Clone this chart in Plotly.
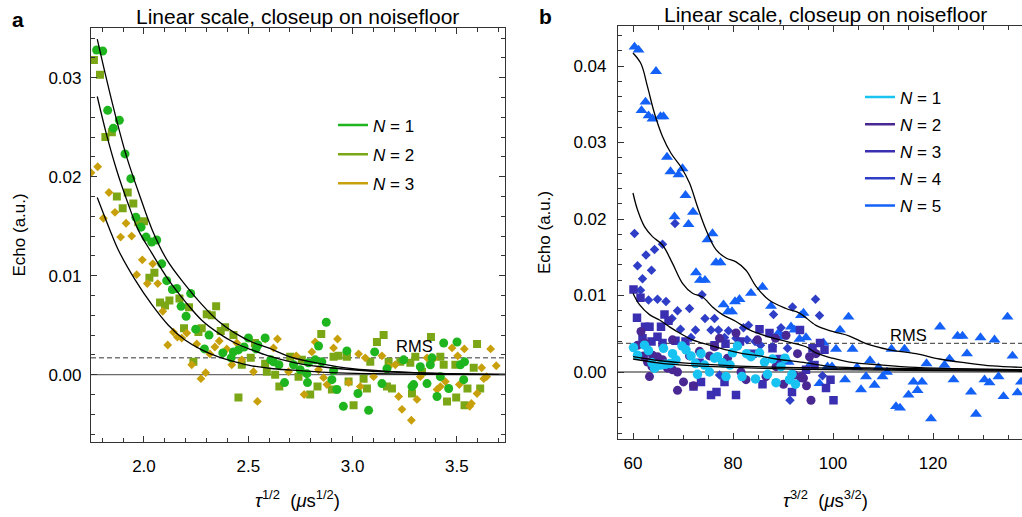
import plotly.graph_objects as go

W, H = 1022, 517
FONT = "Liberation Sans, Arial, sans-serif"

# ---------------- Panel a data: (tau^1/2, echo) ----------------
a_n1 = [(1.773,0.0328),(1.802,0.0327),(1.826,0.0267),(1.853,0.0249),(1.882,0.0257),(1.909,0.0223),
        (1.937,0.0198),(1.961,0.0159),(1.986,0.0149),(2.010,0.0139),(2.037,0.0134),(2.061,0.0136),
        (2.085,0.0112),(2.109,0.0095),(2.136,0.0086),(2.157,0.0087),(2.178,0.0069),(2.202,0.0059),
        (2.224,0.0082),(2.248,0.0046),(2.290,0.0026),(2.312,0.0040),(2.378,0.0022),(2.418,0.0017),
        (2.429,0.0023),(2.453,0.0025),(2.480,0.0028),(2.501,0.0037),(2.537,0.0026),(2.546,0.0030),
        (2.581,0.0037),(2.608,0.0015),(2.621,0.0013),(2.647,0.0010),(2.674,-0.0008),(2.717,0.0010),
        (2.749,0.0005),(2.781,0.0001),(2.789,0.0012),(2.784,-0.0008),(2.821,0.0015),(2.837,0.0029),
        (2.853,0.0013),(2.874,0.0053),(2.901,-0.0005),(2.909,0.0004),(2.925,-0.0015),(2.956,-0.0032),
        (2.973,0.0024),(3.026,-0.0019),(3.077,-0.0036),(3.106,0.0023),(3.141,-0.0009),(3.165,0.0006),
        (3.245,0.0015),(3.285,-0.0012),(3.293,-0.0010),(3.325,0.0008),(3.357,-0.0009),(3.373,0.0010),
        (3.381,0.0017),(3.405,-0.0022),(3.421,-0.0002),(3.437,0.0032),(3.461,-0.0014),(3.501,0.0033),
        (3.517,0.0010),(3.533,-0.0005),(3.537,0.0013)]
a_n2 = [(1.760,0.0318),(1.789,0.0303),(1.815,0.0240),(1.846,0.0245),(1.870,0.0180),(1.898,0.0168),
        (1.922,0.0184),(1.949,0.0173),(1.973,0.0154),(2.000,0.0155),(2.026,0.0098),(2.050,0.0103),
        (2.077,0.0073),(2.101,0.0070),(2.122,0.0075),(2.170,0.0077),(2.192,0.0047),(2.216,0.0068),
        (2.237,0.0013),(2.261,0.0043),(2.277,0.0047),(2.301,0.0061),(2.325,0.0060),(2.346,0.0069),
        (2.368,0.0044),(2.389,0.0048),(2.429,0.0040),(2.453,-0.0023),(2.469,0.0010),(2.512,0.0017),
        (2.532,0.0032),(2.581,0.0011),(2.589,0.0003),(2.629,0.0000),(2.649,-0.0012),(2.701,0.0018),
        (2.741,-0.0002),(2.757,0.0015),(2.797,-0.0020),(2.832,-0.0012),(2.850,0.0041),(2.901,-0.0015),
        (2.909,0.0018),(2.933,0.0019),(2.973,0.0018),(2.981,-0.0007),(3.005,-0.0031),(3.053,-0.0004),
        (3.069,-0.0014),(3.085,0.0013),(3.117,0.0033),(3.149,0.0040),(3.165,-0.0012),(3.173,0.0013),
        (3.189,-0.0014),(3.229,0.0013),(3.277,0.0012),(3.285,-0.0019),(3.301,0.0018),(3.333,0.0003),
        (3.376,0.0038),(3.421,0.0018),(3.437,0.0010),(3.453,-0.0027),(3.493,0.0010),(3.497,-0.0023),
        (3.537,-0.0031),(3.551,-0.0014),(3.581,0.0007),(3.597,0.0031),(3.612,-0.0014)]
a_n3 = [(1.746,0.0204),(1.778,0.0210),(1.805,0.0158),(1.832,0.0184),(1.861,0.0164),(1.888,0.0139),
        (1.914,0.0153),(1.941,0.0140),(1.965,0.0101),(1.992,0.0116),(2.016,0.0092),(2.042,0.0112),
        (2.066,0.0092),(2.090,0.0064),(2.114,0.0030),(2.141,0.0043),(2.160,0.0038),(2.181,0.0037),
        (2.205,0.0042),(2.229,0.0010),(2.253,0.0031),(2.273,-0.0004),(2.296,0.0002),(2.316,0.0021),
        (2.340,0.0028),(2.361,0.0034),(2.397,0.0026),(2.421,0.0010),(2.445,0.0032),(2.469,0.0015),
        (2.525,0.0003),(2.544,-0.0027),(2.581,0.0036),(2.621,0.0027),(2.640,0.0036),(2.693,0.0003),
        (2.730,0.0019),(2.768,-0.0020),(2.805,0.0023),(2.821,0.0033),(2.837,0.0005),(2.861,-0.0003),
        (2.877,-0.0010),(2.909,0.0027),(2.928,0.0036),(2.981,-0.0008),(3.029,0.0021),(3.037,-0.0012),
        (3.061,0.0017),(3.101,-0.0002),(3.141,0.0019),(3.173,0.0008),(3.205,0.0010),(3.221,-0.0022),
        (3.237,-0.0035),(3.282,-0.0046),(3.309,-0.0025),(3.325,-0.0002),(3.357,0.0017),(3.389,0.0016),
        (3.405,-0.0015),(3.421,-0.0012),(3.445,-0.0007),(3.477,0.0027),(3.504,0.0019),(3.512,-0.0010),
        (3.536,0.0026),(3.562,-0.0032),(3.570,-0.0029),(3.597,-0.0019),(3.619,0.0007),(3.629,-0.0004),
        (3.643,-0.0002),(3.662,0.0026),(3.689,0.0009)]

# fit curves (panel a)
a_fit1_x = [1.776,1.821,1.869,1.917,1.981,2.040,2.110,2.197,2.277,2.357,2.437,2.517,2.597,2.700,2.850,3.000,3.200,3.450,3.731]
a_fit1_y = [0.0339,0.0298,0.0257,0.0220,0.0180,0.0146,0.0116,0.0091,0.0071,0.0054,0.0042,0.0033,0.0027,0.0018,0.0011,0.0006,0.0003,0.0001,0.00003]
a_fit2_x = [1.776,1.820,1.870,1.920,1.973,2.037,2.117,2.197,2.277,2.357,2.437,2.517,2.597,2.725,2.850,3.000,3.200,3.450,3.731]
a_fit2_y = [0.0281,0.0243,0.0206,0.0175,0.0146,0.0123,0.0096,0.0074,0.0055,0.0042,0.0032,0.0025,0.0019,0.0012,0.0008,0.0005,0.00025,0.0001,0.00003]
a_fit3_x = [1.776,1.837,1.877,1.957,2.037,2.117,2.197,2.277,2.357,2.437,2.517,2.620,2.750,2.900,3.100,3.350,3.731]
a_fit3_y = [0.0179,0.0146,0.0126,0.0096,0.0071,0.0050,0.0035,0.0025,0.0018,0.0013,0.0009,0.0006,0.0004,0.0002,0.0001,0.00004,0.00001]
a_rms = 0.0017

# ---------------- Panel b data: (tau^3/2, echo) ----------------
b_n1 = [(60.1,0.0032),(60.9,0.0022),(62.3,0.0035),(63.1,0.0028),(63.8,0.0012),(64.3,0.0005),(64.6,0.0007),
        (65.6,0.0009),(66.1,0.0031),(66.5,0.0010),(67.4,0.0011),(67.9,0.0024),(68.6,0.0016),(69.8,0.0034),
        (70.6,0.0029),(71.6,0.0021),(72.5,0.0011),(72.9,-0.0003),(73.6,0.0024),(74.3,0.0009),(75.3,0.0000),
        (76.3,0.0018),(76.9,0.0020),(77.9,0.0012),(78.6,-0.0006),(79.4,0.0009),(79.9,0.0025),(80.9,0.0034),
        (81.8,-0.0006),(82.7,0.0024),(83.6,0.0020),(84.5,-0.0009),(85.3,0.0025),(86.3,0.0013),(86.9,-0.0003),
        (87.9,0.0017),(88.6,-0.0014),(89.6,0.0007),(90.4,0.0018),(91.3,-0.0010),(91.8,-0.0003),(92.5,-0.0016)]
b_n2 = [(60.9,0.0035),(61.6,0.0053),(62.1,0.0021),(62.3,0.0038),(62.9,0.0013),(63.3,-0.0006),(63.8,0.0007),
        (63.9,0.0022),(64.9,0.0020),(65.9,0.0016),(66.9,0.0005),(67.9,0.0003),(67.9,0.0042),(68.9,-0.0024),
        (68.9,0.0000),(70.1,-0.0013),(71.3,0.0021),(72.1,-0.0018),(73.3,0.0027),(75.3,0.0021),(76.3,0.0033),
        (77.3,0.0044),(78.9,0.0018),(80.6,0.0051),(81.6,0.0000),(82.6,-0.0010),(83.6,0.0022),(84.9,0.0042),
        (86.6,-0.0006),(88.5,0.0044),(88.6,0.0007),(90.1,-0.0016),(90.6,0.0048),(92.3,-0.0004),(92.9,0.0024),
        (93.6,-0.0006),(94.1,-0.0008),(94.7,-0.0018),(95.3,0.0020),(95.6,-0.0037),(96.6,0.0024)]
b_n3 = [(60.1,0.0108),(60.8,0.0071),(61.5,0.0097),(61.9,0.0044),(62.4,0.0059),(63.3,0.0059),(63.7,0.0040),
        (64.9,0.0046),(65.6,0.0059),(65.9,0.0038),(66.3,0.0075),(67.1,0.0067),(68.5,0.0041),(70.5,0.0040),
        (72.1,-0.0019),(73.3,0.0012),(73.6,-0.0013),(75.6,-0.0030),(76.3,0.0035),(76.7,-0.0026),(78.3,-0.0013),
        (78.5,0.0037),(80.6,-0.0030),(81.4,0.0040),(83.9,0.0024),(85.3,0.0056),(85.9,-0.0016),(87.3,0.0051),
        (87.9,0.0031),(89.3,0.0017),(91.8,-0.0026),(93.4,0.0055),(93.6,-0.0008),(94.6,0.0003),(95.9,0.0031),
        (96.3,0.0009),(97.4,0.0038),(98.3,0.0029),(98.6,-0.0021),(99.5,-0.0010),(100.1,-0.0037)]
b_n4 = [(60.3,0.0181),(60.9,0.0139),(61.5,0.0107),(61.9,0.0122),(62.6,0.0153),(63.1,0.0094),(63.7,0.0133),
        (64.3,0.0160),(64.9,0.0095),(65.9,0.0167),(66.6,0.0092),(67.8,0.0070),(68.4,0.0194),(68.9,0.0080),
        (69.5,0.0056),(71.3,0.0083),(71.6,0.0045),(72.5,0.0055),(73.8,0.0101),(74.4,0.0070),(75.6,0.0055),
        (76.3,0.0070),(77.1,0.0055),(77.3,-0.0004),(78.3,0.0045),(79.1,0.0054),(80.6,0.0044),(82.1,0.0058),
        (82.8,0.0042),(83.1,0.0061),(84.4,0.0040),(85.5,0.0035),(87.9,0.0033),(88.1,0.0075),(89.6,0.0058),
        (90.9,0.0031),(91.4,-0.0037),(91.9,0.0085),(96.5,0.0095),(97.3,0.0074),(97.9,-0.0005)]
b_n5 = [(60.3,0.0425),(61.1,0.0421),(61.7,0.0342),(62.5,0.0353),(63.1,0.0335),(63.9,0.0331),(64.6,0.0393),
        (65.5,0.0334),(66.1,0.0334),(66.8,0.0281),(67.5,0.0262),(68.3,0.0203),(69.1,0.0258),(69.9,0.0266),
        (70.5,0.0231),(71.1,0.0193),(72.0,0.0209),(72.6,0.0130),(73.4,0.0120),(74.4,0.0120),(74.9,0.0173),
        (75.9,0.0181),(76.6,0.0143),(77.5,0.0143),(78.1,0.0088),(79.0,0.0079),(79.8,0.0079),(80.4,0.0092),
        (81.3,0.0095),(83.6,0.0103),(85.9,0.0111),(87.6,0.0086),(89.1,0.0051),(89.9,0.0046),(91.1,0.0013),
        (91.6,0.0059),(92.3,0.0055),(93.3,0.0043),(93.6,0.0074),(94.1,0.0077),(94.6,0.0045),(95.6,0.0011),
        (97.3,-0.0015),(98.1,0.0038),(98.9,0.0007),(99.8,0.0007),(100.6,0.0030),(101.4,0.0055),(102.4,-0.0010),
        (103.1,0.0072),(103.9,0.0030),(104.8,0.0006),(105.6,-0.0023),(106.6,-0.0006),(107.4,0.0015),
        (108.3,-0.0017),(109.1,0.0006),(109.9,-0.0006),(110.8,0.0000),(111.7,0.0030),(112.6,-0.0045),
        (113.4,-0.0047),(114.3,0.0030),(115.1,-0.0030),(116.1,-0.0013),(116.9,-0.0024),(117.8,-0.0013),
        (118.7,0.0011),(119.6,-0.0061),(121.4,0.0059),(122.3,0.0009),(123.3,0.0017),(124.1,-0.0010),
        (124.9,0.0047),(125.9,0.0047),(126.8,0.0024),(127.6,-0.0026),(128.6,-0.0055),(129.5,0.0045),
        (130.3,-0.0010),(131.3,-0.0014),(132.3,0.0042),(133.1,-0.0006),(134.1,-0.0032),(134.9,0.0072),
        (135.9,0.0021),(136.9,-0.0027),(137.6,-0.0013)]

b_fit5_x = [60.0,61.6,62.9,64.3,65.9,67.6,69.6,71.3,72.9,74.6,76.6,78.6,80.6,82.6,84.6,87.2,90.6,93.3,96.6,99.9,103.3,106.6,111.3,116.6,121.3,126.6,131.9,137.8]
b_fit5_y = [0.0417,0.0403,0.0373,0.0338,0.0308,0.0286,0.0268,0.0247,0.0216,0.0186,0.0160,0.0149,0.0144,0.0133,0.0112,0.0094,0.0083,0.0077,0.0061,0.0053,0.0047,0.0037,0.0029,0.0024,0.0017,0.0012,0.0008,0.0006]
b_fit4_x = [60.0,60.9,62.3,63.9,65.9,67.9,69.9,71.9,73.9,75.9,77.9,80.6,83.3,86.6,90.6,94.6,96.6,99.9,103.3,109.9,116.6,126.6,137.8]
b_fit4_y = [0.0234,0.0212,0.0190,0.0177,0.0166,0.0142,0.0116,0.0103,0.0098,0.0085,0.0075,0.0066,0.0055,0.0047,0.0040,0.0033,0.0025,0.0018,0.0013,0.0009,0.0006,0.0004,0.0003]
b_fit3_x = [60.0,61.3,63.3,65.3,67.3,69.3,71.9,75.3,78.6,81.9,85.3,88.6,94.6,99.9,109.9,120.0,137.8]
b_fit3_y = [0.0103,0.0088,0.0075,0.0068,0.0059,0.0051,0.0042,0.0035,0.0029,0.0024,0.0021,0.0017,0.0012,0.0007,0.0005,0.0004,0.0003]
b_fit2_x = [60.0,65.0,70.0,75.0,80.0,90.0,100.0,115.0,137.8]
b_fit2_y = [0.0020,0.0015,0.0012,0.0010,0.0008,0.0006,0.0005,0.0003,0.0002]
b_fit1_x = [60.0,65.0,70.0,80.0,90.0,100.0,115.0,137.8]
b_fit1_y = [0.0017,0.0012,0.0009,0.0006,0.0004,0.0003,0.0002,0.0001]
b_rms = 0.00375

a_labels = ["<i>N</i> = 1", "<i>N</i> = 2", "<i>N</i> = 3"]
b_labels = ["<i>N</i> = 1", "<i>N</i> = 2", "<i>N</i> = 3", "<i>N</i> = 4", "<i>N</i> = 5"]
a_colors = ["#1fb51f", "#7ba717", "#c8a00c"]
b_colors = ["#18c3f2", "#4a2894", "#3a2fb0", "#2f3ec6", "#1461f7"]

fig = go.Figure()

def xs(p): return [v[0] for v in p]
def ys(p): return [v[1] for v in p]

# ---- panel a markers
a_sym = {0: ("circle", 9), 1: ("square", 8), 2: ("diamond", 6.8)}
for idx, pts in [(1, a_n2), (2, a_n3), (0, a_n1)]:
    sym, sz = a_sym[idx]
    fig.add_trace(go.Scatter(x=xs(pts), y=ys(pts), mode="markers", xaxis="x", yaxis="y",
                             marker=dict(symbol=sym, size=sz, color=a_colors[idx], line=dict(width=0)),
                             showlegend=False, hoverinfo="skip"))
for fx, fy in [(a_fit1_x, a_fit1_y), (a_fit2_x, a_fit2_y), (a_fit3_x, a_fit3_y)]:
    fig.add_trace(go.Scatter(x=fx, y=fy, mode="lines", xaxis="x", yaxis="y",
                             line=dict(color="black", width=1.3, shape="spline"),
                             showlegend=False, hoverinfo="skip"))
for i in range(3):
    fig.add_trace(go.Scatter(x=[None], y=[None], mode="lines", xaxis="x", yaxis="y",
                             line=dict(color=a_colors[i], width=2.5), name=a_labels[i],
                             legend="legend", legendgroup="a%d" % i))

# ---- panel b markers
b_sym = {0: ("circle", 9.5), 1: ("circle", 9), 2: ("square", 8.5), 3: ("diamond", 7.3), 4: ("triangle-up", 10.5)}
b_pts = [b_n1, b_n2, b_n3, b_n4, b_n5]
for idx in [4, 3, 2, 1, 0]:
    sym, sz = b_sym[idx]
    fig.add_trace(go.Scatter(x=xs(b_pts[idx]), y=ys(b_pts[idx]), mode="markers", xaxis="x2", yaxis="y2",
                             marker=dict(symbol=sym, size=sz, color=b_colors[idx], line=dict(width=0)),
                             showlegend=False, hoverinfo="skip"))
for fx, fy in [(b_fit5_x, b_fit5_y), (b_fit4_x, b_fit4_y), (b_fit3_x, b_fit3_y),
               (b_fit2_x, b_fit2_y), (b_fit1_x, b_fit1_y)]:
    fig.add_trace(go.Scatter(x=fx, y=fy, mode="lines", xaxis="x2", yaxis="y2",
                             line=dict(color="black", width=1.3, shape="spline"),
                             showlegend=False, hoverinfo="skip"))
for i in range(5):
    fig.add_trace(go.Scatter(x=[None], y=[None], mode="lines", xaxis="x2", yaxis="y2",
                             line=dict(color=b_colors[i], width=2.5), name=b_labels[i],
                             legend="legend2", legendgroup="b%d" % i))

AX = "#333333"
tickfont = dict(family=FONT, size=17, color="black")

def xpx(p): return p / W
def ypx(p): return 1 - p / H

common = dict(showline=True, linecolor=AX, linewidth=1.2, ticks="inside", ticklen=6,
              tickwidth=1, tickcolor=AX, showgrid=False, zeroline=False, tickfont=tickfont)

fig.update_layout(
    width=W, height=H, margin=dict(l=0, r=0, t=0, b=0),
    paper_bgcolor="white", plot_bgcolor="white",
    xaxis=dict(domain=[xpx(91), xpx(505)], range=[1.746, 3.731], anchor="y",
               tickvals=[2.0, 2.5, 3.0, 3.5], tickformat=".1f", mirror="ticks",
               minor=dict(dtick=0.1, ticks="inside", ticklen=4, tickcolor=AX),
               ticklabelstandoff=9, **common),
    yaxis=dict(domain=[ypx(441.7), ypx(28)], range=[-0.00677, 0.03502], anchor="x",
               tickvals=[0.0, 0.01, 0.02, 0.03], tickformat=".2f", mirror="ticks",
               minor=dict(dtick=0.002, ticks="inside", ticklen=4, tickcolor=AX),
               ticklabelstandoff=5, **common),
    xaxis2=dict(domain=[xpx(618), 1.0], range=[57.0, 137.8], anchor="y2",
                tickvals=[60, 80, 100, 120], mirror="ticks",
                minor=dict(dtick=5, ticks="inside", ticklen=4, tickcolor=AX),
                ticklabelstandoff=9, **common),
    yaxis2=dict(domain=[ypx(438.7), ypx(25.7)], range=[-0.00872, 0.04527], anchor="x2",
                tickvals=[0.0, 0.01, 0.02, 0.03, 0.04], tickformat=".2f", mirror=False,
                minor=dict(dtick=0.002, ticks="inside", ticklen=4, tickcolor=AX),
                ticklabelstandoff=7, **common),
    legend=dict(x=xpx(333), y=ypx(107.5), xanchor="left", yanchor="top", bgcolor="rgba(0,0,0,0)",
                font=dict(family=FONT, size=17, color="black"), traceorder="grouped",
                tracegroupgap=4, itemclick=False),
    legend2=dict(x=xpx(860), y=ypx(79.5), xanchor="left", yanchor="top", bgcolor="rgba(0,0,0,0)",
                 font=dict(family=FONT, size=17, color="black"), traceorder="grouped",
                 tracegroupgap=2, itemclick=False),
)

# zero lines and RMS lines
for xr, yr, rms in [("x domain", "y", a_rms), ("x2 domain", "y2", b_rms)]:
    fig.add_shape(type="line", xref=xr, yref=yr, x0=0, x1=1, y0=0, y1=0,
                  line=dict(color="#6a6a6a", width=1.3), layer="below")
    fig.add_shape(type="line", xref=xr, yref=yr, x0=0, x1=1, y0=rms, y1=rms,
                  line=dict(color="#333333", width=1, dash="5px,3px"), layer="below")

txt = dict(family=FONT, size=17, color="black")
ann = [
    dict(text="Linear scale, closeup on noisefloor", x=xpx(297.5), y=ypx(17), font=dict(family=FONT, size=21, color="black")),
    dict(text="Linear scale, closeup on noisefloor", x=xpx(825), y=ypx(15), font=dict(family=FONT, size=21, color="black")),
    dict(text="<b>a</b>", x=xpx(18), y=ypx(19), font=dict(family=FONT, size=21, color="black")),
    dict(text="<b>b</b>", x=xpx(545), y=ypx(17), font=dict(family=FONT, size=21, color="black")),
    dict(text="Echo (a.u.)", x=xpx(19), y=ypx(235.5), textangle=-90, font=txt),
    dict(text="Echo (a.u.)", x=xpx(545), y=ypx(233), textangle=-90, font=txt),
    dict(text="<i>τ</i><sup>1/2</sup>  (<i>μ</i>s<sup>1/2</sup>)", x=xpx(297), y=ypx(499), font=dict(family=FONT, size=18.5, color="black")),
    dict(text="<i>τ</i><sup>3/2</sup>  (<i>μ</i>s<sup>3/2</sup>)", x=xpx(825), y=ypx(499), font=dict(family=FONT, size=18.5, color="black")),
]
for a in ann:
    fig.add_annotation(xref="paper", yref="paper", showarrow=False, xanchor="center", yanchor="middle", **a)
fig.add_annotation(xref="x", yref="y", x=3.299, y=0.00285, text="RMS", showarrow=False,
                   font=dict(family=FONT, size=16.5, color="black"))
fig.add_annotation(xref="x2", yref="y2", x=115.1, y=0.0048, text="RMS", showarrow=False,
                   font=dict(family=FONT, size=16.5, color="black"))

fig.write_html("out.html", config={"displayModeBar": False, "staticPlot": False},
               post_script="document.body.style.margin='0px';document.body.style.overflow='hidden';")
